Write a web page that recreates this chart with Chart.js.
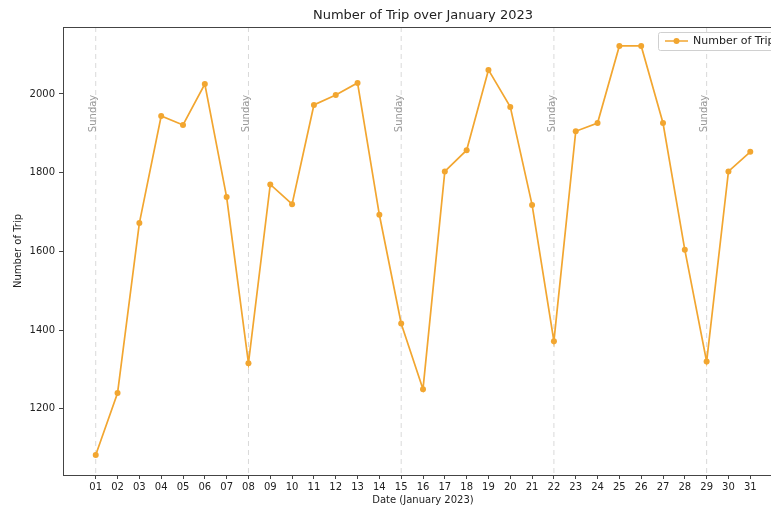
<!DOCTYPE html>
<html>
<head>
<meta charset="utf-8">
<script src="https://cdn.jsdelivr.net/npm/chart.js@4/dist/chart.umd.min.js"></script>
<style>
  html, body { margin: 0; padding: 0; background: #fff; }
  #wrap { width: 771px; height: 506px; overflow: hidden; }
</style>
</head>
<body>
<div id="wrap"><canvas id="tripChart" width="800" height="506"></canvas></div>
<script>
// data hasil baca dari gambar
var dayLabels = ['01', '02', '03', '04', '05', '06', '07', '08', '09', '10',
                 '11', '12', '13', '14', '15', '16', '17', '18', '19', '20',
                 '21', '22', '23', '24', '25', '26', '27', '28', '29', '30', '31'];
var tripCounts = [1083, 1240, 1672, 1944, 1921, 2025, 1738, 1316, 1770, 1720,
                  1972, 1997, 2028, 1693, 1417, 1250, 1803, 1857, 2061, 1967,
                  1718, 1372, 1905, 1926, 2122, 2122, 1926, 1604, 1320, 1803, 1853];
var sundayDays = ['01', '08', '15', '22', '29'];
var yTicks = [1200, 1400, 1600, 1800, 2000];

var lineColor = 'rgb(242, 166, 48)';

// garis minggu + bingkai + legenda
var extrasPlugin = {
    id: 'extras',
    beforeDatasetsDraw: function (chart) {
        var ctx = chart.ctx;
        var area = chart.chartArea;
        var xs = chart.scales.x;
        var ys = chart.scales.y;
        ctx.save();
        sundayDays.forEach(function (d) {
            var px = xs.getPixelForValue(dayLabels.indexOf(d));
            ctx.strokeStyle = '#d9d9d9';
            ctx.lineWidth = 1;
            ctx.setLineDash([5, 4]);
            ctx.beginPath();
            ctx.moveTo(px, area.top);
            ctx.lineTo(px, area.bottom);
            ctx.stroke();
            ctx.setLineDash([]);
            ctx.save();
            ctx.translate(px - 2, ys.getPixelForValue(1998));
            ctx.rotate(-Math.PI / 2);
            ctx.fillStyle = '#9a9a9a';
            ctx.font = '10px "DejaVu Sans"';
            ctx.textAlign = 'right';
            ctx.textBaseline = 'middle';
            ctx.fillText('Sunday', 0, 0);
            ctx.restore();
        });
        ctx.restore();
    },
    afterDraw: function (chart) {
        var ctx = chart.ctx;
        var area = chart.chartArea;
        ctx.save();
        ctx.strokeStyle = '#444';
        ctx.lineWidth = 1;
        ctx.strokeRect(area.left + 0.5, area.top + 0.5, area.right - area.left, area.bottom - area.top);

        // legenda
        var lx = 658, ly = 32;
        ctx.fillStyle = 'rgba(255,255,255,0.85)';
        ctx.strokeStyle = '#d0d0d0';
        ctx.beginPath();
        ctx.roundRect(lx + 0.5, ly + 0.5, 130, 18, 2);
        ctx.fill();
        ctx.stroke();
        ctx.strokeStyle = lineColor;
        ctx.lineWidth = 1.5;
        ctx.beginPath();
        ctx.moveTo(lx + 7, ly + 9);
        ctx.lineTo(lx + 30, ly + 9);
        ctx.stroke();
        ctx.fillStyle = lineColor;
        ctx.beginPath();
        ctx.arc(lx + 18.5, ly + 9, 3, 0, Math.PI * 2);
        ctx.fill();
        ctx.fillStyle = '#222';
        ctx.font = '11px "DejaVu Sans"';
        ctx.textBaseline = 'middle';
        ctx.textAlign = 'left';
        ctx.fillText('Number of Trip', lx + 35, ly + 9.5);
        ctx.restore();
    }
};

var ctxTrip = document.getElementById('tripChart').getContext('2d');
new Chart(ctxTrip, {
    type: 'line',
    data: {
        datasets: [{
            label: 'Number of Trip',
            data: tripCounts.map(function (v, i) { return { x: i, y: v }; }),
            borderColor: lineColor,
            backgroundColor: lineColor,
            borderWidth: 1.7,
            pointRadius: 3,
            pointBorderWidth: 0,
            tension: 0
        }]
    },
    options: {
        responsive: false,
        animation: false,
        layout: { padding: { left: 0, right: 17, top: 0, bottom: 0 } },
        plugins: {
            legend: { display: false },
            tooltip: { enabled: false },
            title: {
                display: true,
                text: 'Number of Trip over January 2023',
                fullSize: false,
                color: '#222',
                font: { family: 'DejaVu Sans', size: 13, weight: 'normal' },
                padding: { top: 8, bottom: 3.4 }
            }
        },
        scales: {
            x: {
                type: 'linear',
                min: -1.5,
                max: 31.5,
                afterBuildTicks: function (scale) {
                    scale.ticks = dayLabels.map(function (d, i) { return { value: i }; });
                },
                afterFit: function (scale) { scale.height = 31; },
                ticks: {
                    autoSkip: false,
                    maxRotation: 0,
                    padding: 2,
                    color: '#222',
                    font: { family: 'DejaVu Sans', size: 10 },
                    callback: function (v) { return dayLabels[v]; }
                },
                grid: { drawOnChartArea: false, drawTicks: true, tickLength: 4, color: '#444' },
                border: { display: true, color: '#444' },
                title: {
                    display: true,
                    text: 'Date (January 2023)',
                    color: '#222',
                    font: { family: 'DejaVu Sans', size: 10 },
                    padding: { top: 0, bottom: 0 }
                }
            },
            y: {
                min: 1032,
                max: 2170,
                afterBuildTicks: function (scale) {
                    scale.ticks = yTicks.map(function (v) { return { value: v }; });
                },
                afterFit: function (scale) { scale.width = 63; },
                ticks: {
                    padding: 4,
                    color: '#222',
                    font: { family: 'DejaVu Sans', size: 10 },
                    callback: function (v) { return String(v); }
                },
                grid: { drawOnChartArea: false, drawTicks: true, tickLength: 4, color: '#444' },
                border: { display: true, color: '#444' },
                title: {
                    display: true,
                    text: 'Number of Trip',
                    color: '#222',
                    font: { family: 'DejaVu Sans', size: 10 },
                    padding: { top: 12, bottom: 0 }
                }
            }
        }
    },
    plugins: [extrasPlugin]
});
</script>
</body>
</html>
